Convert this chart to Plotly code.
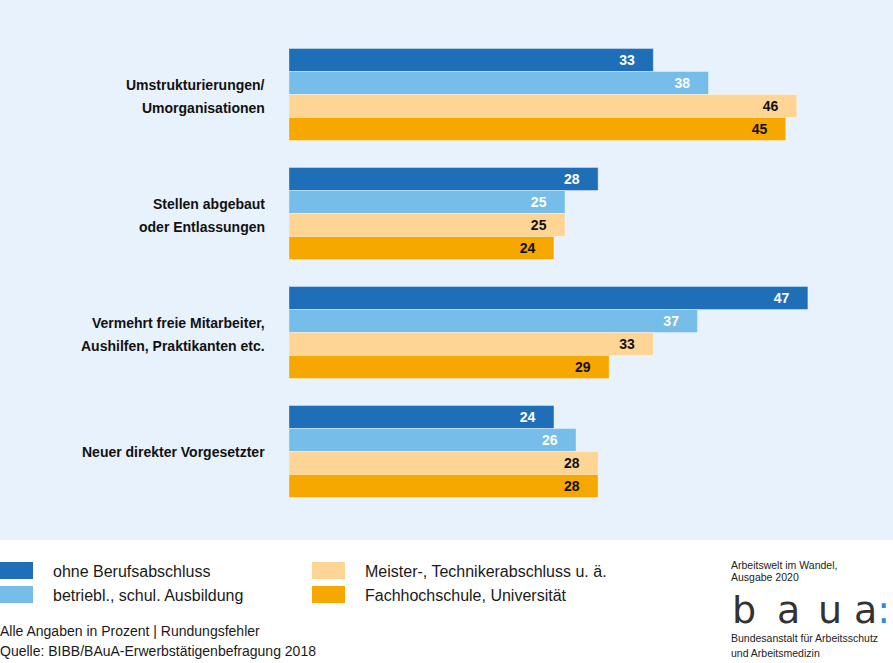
import plotly.graph_objects as go

categories = [
    "Umstrukturierungen/<br>Umorganisationen",
    "Stellen abgebaut<br>oder Entlassungen",
    "Vermehrt freie Mitarbeiter,<br>Aushilfen, Praktikanten etc.",
    "Neuer direkter Vorgesetzter",
]
series_names = [
    "ohne Berufsabschluss",
    "betriebl., schul. Ausbildung",
    "Meister-, Technikerabschluss u. ä.",
    "Fachhochschule, Universität",
]
ohne = [33, 28, 47, 24]
betriebl = [38, 25, 37, 26]
meister = [46, 25, 33, 28]
fachhochschule = [45, 24, 29, 28]
values = [ohne, betriebl, meister, fachhochschule]
colors = ["#1f6fb8", "#77bde9", "#fed595", "#f6a700"]
text_colors = ["#ffffff", "#ffffff", "#111111", "#111111"]

footer_lines = ["Alle Angaben in Prozent | Rundungsfehler",
                "Quelle: BIBB/BAuA-Erwerbstätigenbefragung 2018"]

W, H = 893, 663
L, R, T, B = 289, 4, 35, 152
PW, PH = W - L - R, H - T - B
SLOT = PH / len(categories)


def px(xp):
    return (xp - L) / PW


def py(yp):
    return (H - B - yp) / PH


FONT = "Liberation Sans, Arial, sans-serif"

fig = go.Figure()
for name, vals, col, tcol in zip(series_names, values, colors, text_colors):
    fig.add_trace(go.Bar(
        y=categories, x=vals, name=name, orientation="h",
        marker=dict(color=col, line=dict(color="rgba(255,255,255,0.35)", width=1)),
        texttemplate="<b>%{x}</b>" + "\u00a0" * 4,
        textposition="inside", insidetextanchor="end",
        textfont=dict(color=tcol, size=14, family=FONT),
        showlegend=False, hoverinfo="x+name",
    ))

shapes = [dict(type="rect", xref="paper", yref="paper", x0=px(0), x1=px(W),
               y0=py(540), y1=py(0), fillcolor="#e8f2fc", line=dict(width=0),
               layer="below")]
annotations = []

# category labels (two lines, 23 px apart)
for i, cat in enumerate(categories):
    lines = cat.split("<br>")
    n = len(lines)
    for j, ln in enumerate(lines):
        off = (j - (n - 1) / 2) * 23 + (1.5 if n > 1 else 0.5)
        annotations.append(dict(xref="paper", yref="y", x=px(267), y=i + off / SLOT,
                                text="<b>" + ln + "</b>", showarrow=False,
                                xanchor="right", yanchor="middle",
                                font=dict(size=14, color="#111111", family=FONT)))

legend_pos = [(0, 562), (0, 586), (312, 562), (312, 586)]
for (lx, ly), name, col in zip(legend_pos, series_names, colors):
    shapes.append(dict(type="rect", xref="paper", yref="paper", x0=px(lx), x1=px(lx + 33),
                       y0=py(ly + 17), y1=py(ly), fillcolor=col, line=dict(width=0)))
    annotations.append(dict(xref="paper", yref="paper", x=px(lx + 51), y=py(ly + 9),
                            text=name, showarrow=False, xanchor="left", yanchor="middle",
                            font=dict(size=16, color="#1a1a1a", family=FONT)))
for i, line in enumerate(footer_lines):
    annotations.append(dict(xref="paper", yref="paper", x=px(-2), y=py(631 + 20 * i),
                            text=line, showarrow=False, xanchor="left", yanchor="middle",
                            font=dict(size=14, color="#1a1a1a", family=FONT)))
for text, yy in [("Arbeitswelt im Wandel,", 565), ("Ausgabe 2020", 577),
                 ("Bundesanstalt für Arbeitsschutz", 638), ("und Arbeitsmedizin", 653)]:
    annotations.append(dict(xref="paper", yref="paper", x=px(729), y=py(yy),
                            text=text, showarrow=False, xanchor="left", yanchor="middle",
                            font=dict(size=10.5, color="#222222", family=FONT)))
for ch, cx in [("b", 744), ("a", 788), ("u", 830)]:
    annotations.append(dict(xref="paper", yref="paper", x=px(cx), y=py(610),
                            text=ch, showarrow=False, xanchor="center", yanchor="middle",
                            font=dict(size=38, color="#333333", family="DejaVu Sans")))
annotations.append(dict(xref="paper", yref="paper", x=px(892), y=py(610),
                        text="a<span style='color:#2a8de0'>:</span>", showarrow=False,
                        xanchor="right", yanchor="middle",
                        font=dict(size=38, color="#333333", family="DejaVu Sans")))

fig.update_layout(
    width=W, height=H, barmode="group", bargap=0.227, bargroupgap=0,
    margin=dict(l=L, r=R, t=T, b=B),
    paper_bgcolor="#ffffff", plot_bgcolor="rgba(0,0,0,0)",
    xaxis=dict(range=[0, PW / 11.04], showgrid=False, zeroline=False,
               showticklabels=False, fixedrange=True),
    yaxis=dict(autorange="reversed", showgrid=False, ticks="", showticklabels=False,
               fixedrange=True),
    shapes=shapes, annotations=annotations,
    font=dict(family=FONT),
)
fig.write_html("out.html", config={"displayModeBar": False},
               post_script="document.body.style.margin='0';document.body.style.overflow='hidden';")
